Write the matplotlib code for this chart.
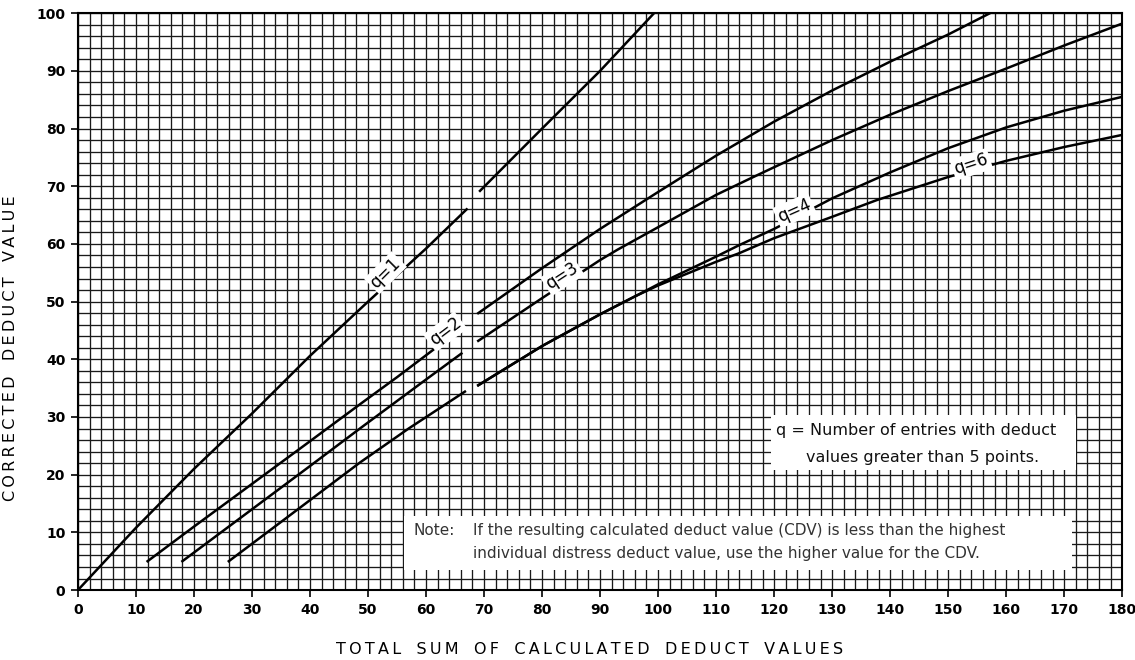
import matplotlib
matplotlib.use("Agg")
import matplotlib.pyplot as plt
import numpy as np
from matplotlib.patches import Rectangle

# curve segments (the printed curves break between 67 and 69)
q1_lo_x = [0, 10, 20, 30, 40, 50, 60, 67]
q1_lo_y = [0, 10.8, 21, 30.6, 40.6, 50, 59.2, 66]
q1_hi_x = [69.3, 80, 90, 99.3]
q1_hi_y = [69.2, 80, 90, 100]

q2_lo_x = [12, 20, 30, 40, 48.6, 55, 60, 66]
q2_lo_y = [5, 11, 18.4, 25.8, 32.2, 36.9, 40.7, 45.3]
q2_hi_x = [69, 80, 90, 100, 110, 120, 130, 140, 150, 157.2]
q2_hi_y = [48, 55.8, 62.6, 69.0, 75.3, 81.2, 86.6, 91.6, 96.3, 100]

q3_lo_x = [18, 30, 40, 48.6, 60, 66.1]
q3_lo_y = [5, 14, 21.5, 28.0, 36.5, 41]
q3_hi_x = [69, 80, 90, 93, 100, 110, 116, 120, 130, 140, 150, 160, 170, 180]
q3_hi_y = [43.2, 50.6, 57.2, 59, 62.9, 68.5, 71.4, 73.3, 78, 82.4, 86.5, 90.4, 94.4, 98.2]

q4_lo_x = [26, 35, 48.6, 57, 66.7]
q4_lo_y = [5, 11.8, 22.1, 28, 34.4]
q4_hi_x = [69, 80, 90, 96, 100, 110, 114, 120, 130, 140, 150, 160, 170, 180]
q4_hi_y = [35.5, 42.3, 47.8, 50.9, 53, 57.8, 59.8, 62.6, 67.9, 72.4, 76.6, 80.2, 83.1, 85.5]
q6_hi_x = [69, 80, 90, 96, 100, 110, 114, 120, 130, 137.7, 150, 160, 170, 180]
q6_hi_y = [35.5, 42.3, 47.8, 50.9, 52.8, 56.9, 58.4, 61, 64.7, 67.6, 71.6, 74.4, 76.8, 78.9]

x_ticks = list(range(0, 181, 10))
y_ticks = list(range(0, 101, 10))

curve_labels = ["q=1", "q=2", "q=3", "q=4", "q=6"]
label_x = [53, 63.3, 83.5, 123.5, 154]
label_y = [55, 44.8, 54.4, 65.8, 73.8]
label_rot = [45, 37, 33, 24, 18]


def spaced(s):
    # letter-spaced caps with wide gaps between words
    return "   ".join("\u2009".join(w) for w in s.split())


fig = plt.figure(figsize=(11.35, 6.6), dpi=100)
ax = fig.add_axes([0.0687, 0.106, 0.92, 0.874])

ax.set_xlim(0, 180)
ax.set_ylim(0, 100)
ax.set_xticks(x_ticks)
ax.set_yticks(y_ticks)
ax.set_xticks(np.arange(0, 181, 2), minor=True)
ax.set_yticks(np.arange(0, 101, 2), minor=True)
ax.grid(True, which="both", color="#1a1a1a", linewidth=0.95)
ax.set_axisbelow(True)
ax.tick_params(which="minor", length=0)
ax.tick_params(which="major", length=5, width=1.2, direction="out",
               labelsize=10, pad=4)
for lab in ax.get_xticklabels() + ax.get_yticklabels():
    lab.set_fontweight("bold")
for sp in ax.spines.values():
    sp.set_linewidth(1.5)

segs = [(q1_lo_x, q1_lo_y), (q1_hi_x, q1_hi_y),
        (q2_lo_x, q2_lo_y), (q2_hi_x, q2_hi_y),
        (q3_lo_x, q3_lo_y), (q3_hi_x, q3_hi_y),
        (q4_lo_x, q4_lo_y), (q4_hi_x, q4_hi_y),
        (q6_hi_x, q6_hi_y)]
for sx, sy in segs:
    ax.plot(sx, sy, color="black", linewidth=1.8, zorder=3)

for t, lx, ly, r in zip(curve_labels, label_x, label_y, label_rot):
    ax.text(lx, ly, t, rotation=r, ha="center", va="center", fontsize=12,
            rotation_mode="anchor", zorder=4,
            bbox=dict(facecolor="white", edgecolor="none", pad=1.5))

# explanation box
ax.add_patch(Rectangle((119.5, 20.8), 52.5, 9.6, facecolor="white",
                       edgecolor="none", zorder=2.5))
ax.text(120.3, 27.6, "q = Number of entries with deduct", fontsize=11.5,
        va="center", ha="left", color="#111111", zorder=4)
ax.text(125.5, 22.9, "values greater than 5 points.", fontsize=11.5,
        va="center", ha="left", color="#111111", zorder=4)

# note box
ax.add_patch(Rectangle((56.2, 3.4), 115.2, 9.4, facecolor="white",
                       edgecolor="none", zorder=2.5))
ax.text(57.8, 10.3, "Note:", fontsize=11, va="center", ha="left",
        color="#333333", zorder=4)
ax.text(68.1, 10.3,
        "If the resulting calculated deduct value (CDV) is less than the highest",
        fontsize=11, va="center", ha="left", color="#333333", zorder=4)
ax.text(68.1, 6.3,
        "individual distress deduct value, use the higher value for the CDV.",
        fontsize=11, va="center", ha="left", color="#333333", zorder=4)

ax.set_xlabel(spaced("TOTAL SUM OF CALCULATED DEDUCT VALUES"), fontsize=11.5)
ax.set_ylabel(spaced("CORRECTED DEDUCT VALUE"), fontsize=11.5)
ax.xaxis.set_label_coords(0.49, -0.09)
ax.yaxis.set_label_coords(-0.057, 0.42)

fig.savefig("out.png", dpi=100)
